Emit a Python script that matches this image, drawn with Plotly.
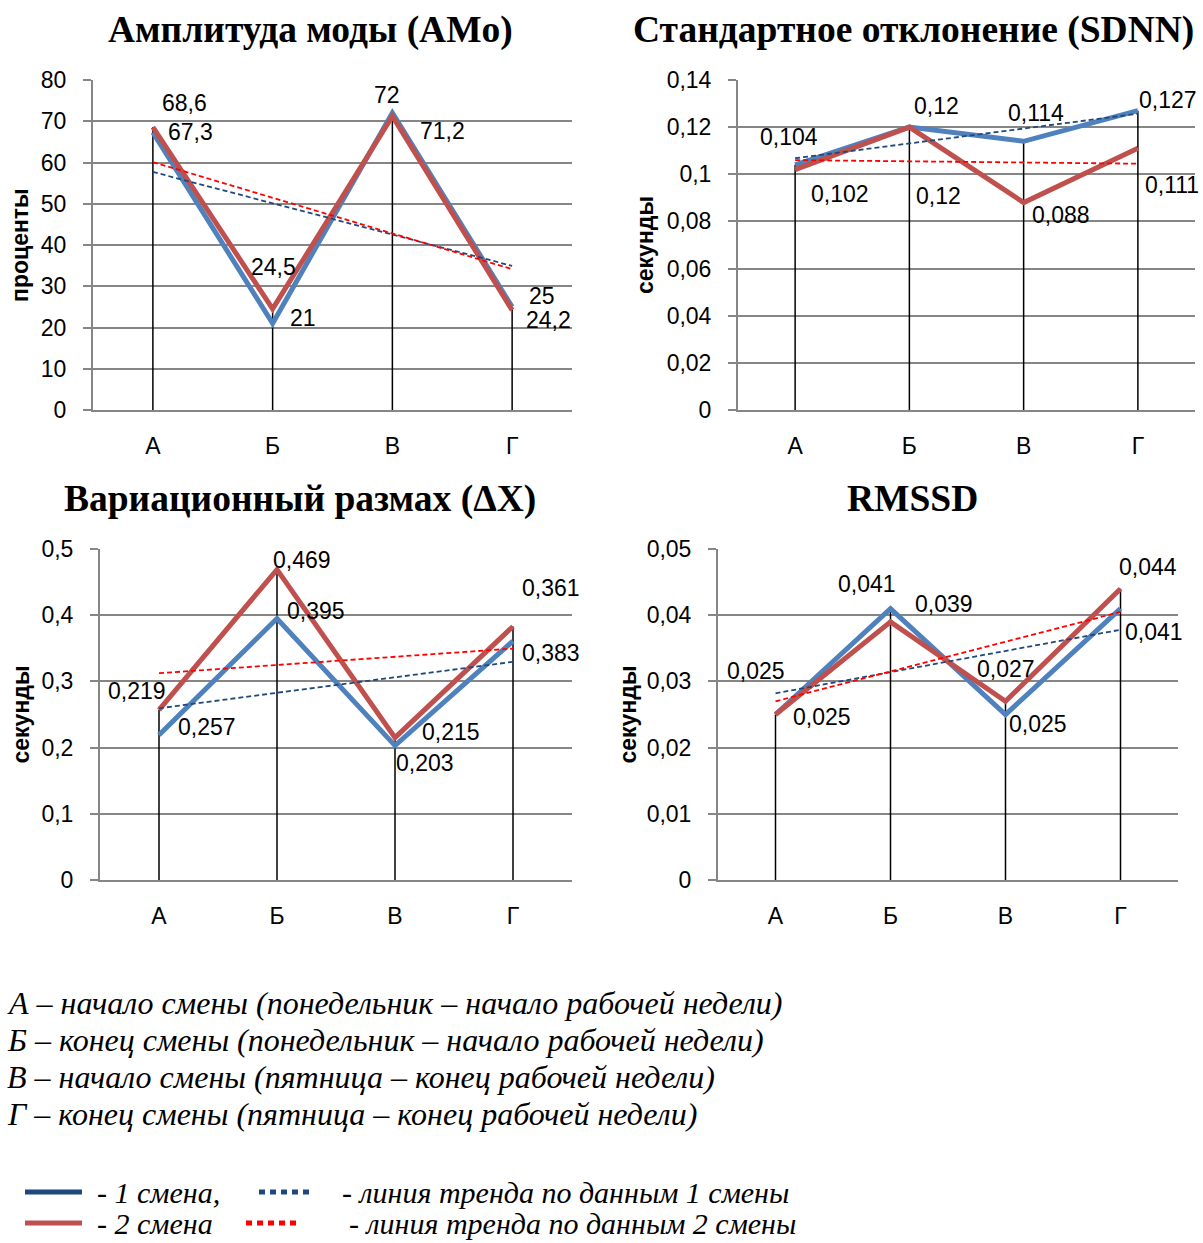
import numpy as np
import plotly.graph_objects as go

W, H = 1203, 1243

categories = ["А", "Б", "В", "Г"]

amo_shift1 = [67.3, 21, 72, 25]
amo_shift2 = [68.6, 24.5, 71.2, 24.2]

sdnn_shift1 = [0.104, 0.12, 0.114, 0.127]
sdnn_shift2 = [0.102, 0.12, 0.088, 0.111]

dx_shift1 = [0.219, 0.395, 0.203, 0.361]
dx_shift2 = [0.257, 0.469, 0.215, 0.383]

rmssd_shift1 = [0.025, 0.041, 0.025, 0.041]
rmssd_shift2 = [0.025, 0.039, 0.027, 0.044]

titles = ["Амплитуда моды (AMo)", "Стандартное отклонение (SDNN)",
          "Вариационный размах (ΔX)", "RMSSD"]
ytitles = ["проценты", "секунды", "секунды", "секунды"]

amo_ticks = [0, 10, 20, 30, 40, 50, 60, 70, 80]
sdnn_ticks = [0, 0.02, 0.04, 0.06, 0.08, 0.1, 0.12, 0.14]
dx_ticks = [0, 0.1, 0.2, 0.3, 0.4, 0.5]
rmssd_ticks = [0, 0.01, 0.02, 0.03, 0.04, 0.05]

notes = [
    "А – начало смены (понедельник – начало рабочей недели)",
    "Б – конец смены (понедельник – начало рабочей недели)",
    "В – начало смены (пятница – конец рабочей недели)",
    "Г – конец смены (пятница – конец рабочей недели)",
]
legend_texts = ["- 1 смена,", "- линия тренда по данным 1 смены",
                "- 2 смена", "- линия тренда по данным 2 смены"]

# ---- styles / layout ----
BLUE = "#4F81BD"
RED = "#C0504D"
TBLUE = "#1F497D"
TRED = "#FF0000"
GRID = "#868686"
SANS = "Liberation Sans"
SERIF = "Liberation Serif"
FS = 23

# panel geometry in pixels: (x0, x1, ytop, ybottom)
panels = [
    dict(px=(93, 572), py=(80, 410), ymax=80, ticks=amo_ticks,
         s1=amo_shift1, s2=amo_shift2, tx=310, ty=30, ytx=20,
         off1=[(38, 0), (30, -5), (-5, -18), (30, -11)],
         off2=[(32, -24), (1, -42), (50, 15), (36, 10)]),
    dict(px=(738, 1195), py=(80, 410), ymax=0.14, ticks=sdnn_ticks,
         s1=sdnn_shift1, s2=sdnn_shift2, tx=913, ty=30, ytx=645,
         off1=[(-6, -28), (27, -21), (12, -28), (30, -11)],
         off2=[(45, 24), (29, 69), (37, 12), (34, 37)]),
    dict(px=(100, 572), py=(549, 880), ymax=0.5, ticks=dx_ticks,
         s1=dx_shift1, s2=dx_shift2, tx=300, ty=499, ytx=20,
         off1=[(-22, -44), (39, -8), (30, 17), (38, -53)],
         off2=[(48, 17), (25, -10), (56, -6), (38, 27)]),
    dict(px=(718, 1178), py=(549, 880), ymax=0.05, ticks=rmssd_ticks,
         s1=rmssd_shift1, s2=rmssd_shift2, tx=912, ty=499, ytx=627,
         off1=[(-20, -44), (-24, -25), (32, 9), (33, 23)],
         off2=[(46, 2), (53, -18), (0, -32), (27, -22)]),
]


def fmt(v):
    return ("%g" % v).replace(".", ",")


fig = go.Figure()
annotations = []
shapes = []
layout = {}
xs = list(range(len(categories)))

for k, p in enumerate(panels):
    n = "" if k == 0 else str(k + 1)
    xa, ya = "x" + n, "y" + n
    x0, x1 = p["px"]
    yt, yb = p["py"]
    layout["xaxis" + n] = dict(
        domain=[x0 / W, x1 / W], range=[-0.5, len(categories) - 0.5],
        tickvals=xs, ticktext=categories, showgrid=False, zeroline=False,
        showline=True, linecolor=GRID, linewidth=2, ticks="", automargin=False,
        ticklabelstandoff=14, tickfont=dict(family=SANS, size=FS, color="black"),
        anchor=ya, fixedrange=True)
    layout["yaxis" + n] = dict(
        domain=[1 - yb / H, 1 - yt / H], range=[0, p["ymax"]],
        tickvals=p["ticks"], ticktext=[fmt(t) for t in p["ticks"]],
        showgrid=True, gridcolor=GRID, gridwidth=2, zeroline=False,
        showline=True, linecolor=GRID, linewidth=2, automargin=False,
        ticks="outside", ticklen=8, tickwidth=2, tickcolor=GRID,
        ticklabelstandoff=12, tickfont=dict(family=SANS, size=FS, color="black"),
        anchor=xa, fixedrange=True)

    s1, s2 = p["s1"], p["s2"]
    # drop lines
    dxs, dys = [], []
    for i in xs:
        dxs += [i, i, None]
        dys += [0, max(s1[i], s2[i]), None]
    fig.add_trace(go.Scatter(x=dxs, y=dys, mode="lines", xaxis=xa, yaxis=ya,
                             line=dict(color="black", width=1.5),
                             showlegend=False, hoverinfo="skip"))
    # series
    fig.add_trace(go.Scatter(x=xs, y=s1, mode="lines", xaxis=xa, yaxis=ya,
                             line=dict(color=BLUE, width=5), showlegend=False))
    fig.add_trace(go.Scatter(x=xs, y=s2, mode="lines", xaxis=xa, yaxis=ya,
                             line=dict(color=RED, width=5), showlegend=False))
    # trend lines (least squares on data)
    xv = np.array(xs, dtype=float)
    for s, c in ((s1, TBLUE), (s2, TRED)):
        b, a = np.polyfit(xv, np.array(s, dtype=float), 1)
        fig.add_trace(go.Scatter(x=[xv[0], xv[-1]], y=[a + b * xv[0], a + b * xv[-1]],
                                 mode="lines", xaxis=xa, yaxis=ya,
                                 line=dict(color=c, width=1.8, dash="5px,3px"),
                                 showlegend=False, hoverinfo="skip"))
    # data labels
    for s, offs in ((s1, p["off1"]), (s2, p["off2"])):
        for i in xs:
            annotations.append(dict(
                x=i, y=s[i], xref=xa, yref=ya, text=fmt(s[i]), showarrow=False,
                xshift=offs[i][0], yshift=-offs[i][1],
                font=dict(family=SANS, size=FS, color="black")))
    # title
    annotations.append(dict(x=p["tx"] / W, y=1 - p["ty"] / H, xref="paper", yref="paper",
                            text="<b>%s</b>" % titles[k], showarrow=False,
                            xanchor="center", yanchor="middle",
                            font=dict(family=SERIF, size=37.5, color="black")))
    # y-axis title
    annotations.append(dict(x=p["ytx"] / W, y=1 - ((yt + yb) / 2) / H,
                            xref="paper", yref="paper", text="<b>%s</b>" % ytitles[k],
                            textangle=-90, showarrow=False, xanchor="center",
                            yanchor="middle",
                            font=dict(family=SANS, size=FS, color="black")))

# notes
for j, t in enumerate(notes):
    annotations.append(dict(x=5 / W, y=1 - (1003 + 37 * j) / H, xref="paper",
                            yref="paper", text="<i>%s</i>" % t, showarrow=False,
                            xanchor="left", yanchor="middle",
                            font=dict(family=SERIF, size=32, color="black")))

# legend (drawn manually)
leg_y = [1192, 1223]
shapes.append(dict(type="line", xref="paper", yref="paper", x0=25 / W, x1=82 / W,
                   y0=1 - leg_y[0] / H, y1=1 - leg_y[0] / H,
                   line=dict(color=TBLUE, width=5)))
shapes.append(dict(type="line", xref="paper", yref="paper", x0=25 / W, x1=82 / W,
                   y0=1 - leg_y[1] / H, y1=1 - leg_y[1] / H,
                   line=dict(color=RED, width=5)))
shapes.append(dict(type="line", xref="paper", yref="paper", x0=259 / W, x1=314 / W,
                   y0=1 - leg_y[0] / H, y1=1 - leg_y[0] / H,
                   line=dict(color=TBLUE, width=5, dash="6px,5px")))
shapes.append(dict(type="line", xref="paper", yref="paper", x0=246 / W, x1=301 / W,
                   y0=1 - leg_y[1] / H, y1=1 - leg_y[1] / H,
                   line=dict(color=TRED, width=5, dash="6px,5px")))
leg_pos = [(95, leg_y[0]), (340, leg_y[0]), (95, leg_y[1]), (347, leg_y[1])]
for t, (lx, ly) in zip(legend_texts, leg_pos):
    annotations.append(dict(x=lx / W, y=1 - ly / H, xref="paper", yref="paper",
                            text="<i>%s</i>" % t, showarrow=False,
                            xanchor="left", yanchor="middle",
                            font=dict(family=SERIF, size=30, color="black")))

fig.update_layout(width=W, height=H, margin=dict(l=0, r=0, t=0, b=0, pad=0),
                  template="none",
                  paper_bgcolor="white", plot_bgcolor="white",
                  annotations=annotations, shapes=shapes, showlegend=False,
                  **layout)
fig.write_html("out.html")
